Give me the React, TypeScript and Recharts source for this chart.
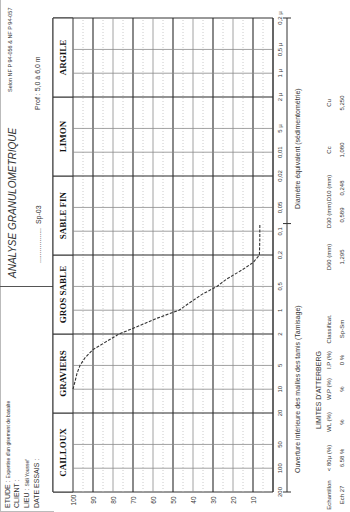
import React from "react";
import { LineChart, Line, XAxis, YAxis, ReferenceLine, ReferenceArea } from "recharts";

// ---------------------------------------------------------------------------
// Data
// ---------------------------------------------------------------------------

// sieve openings (mm) and cumulative passing (%)
const SIZES = [10, 8, 6.3, 5, 4, 3.15, 2, 1.6, 1.25, 1, 0.8, 0.63, 0.5, 0.4, 0.315, 0.25, 0.2, 0.16, 0.125, 0.1, 0.08];
const PASSING = [100, 99, 98, 96.5, 94, 90, 77, 67.5, 57.5, 47, 41.5, 35.5, 28, 23, 16, 10, 6.8, 6.7, 6.6, 6.6, 6.58];

const GRAIN_TICKS = [200, 100, 50, 20, 10, 5, 2, 1, 0.5, 0.2, 0.1, 0.05, 0.02, 0.01, 0.005, 0.002, 0.001, 0.0005, 0.0002];
const GRAIN_LABELS = ["200", "100", "50", "20", "10", "5", "2", "1", "0,5", "0,2", "0,1", "0,05", "0,02", "0,01", "5 µ", "2 µ", "1 µ", "0,5 µ", "0,2 µ"];
const PCT_TICKS = [10, 20, 30, 40, 50, 60, 70, 80, 90, 100];

const CLASS_NAMES = ["CAILLOUX", "GRAVIERS", "GROS SABLE", "SABLE FIN", "LIMON", "ARGILE"];
const CLASS_FROM = [200, 20, 2, 0.2, 0.02, 0.002];
const CLASS_TO = [20, 2, 0.2, 0.02, 0.002, 0.0002];

const RULE_MARKS = [200, 0.08, 0.0002];
const RULE_TEXTS = ["Ouverture intérieure des mailles des tamis (Tamisage)", "Diamètre équivalent (sédimentométrie)"];
const RULE_TEXT_AT = [10, 0.009];

const TABLE_HEAD = ["Echantillon", "< 80µ (%)", "WL (%)", "W.P (%)", "I.P (%)", "Classificat.", "D60 (mm)", "D30 (mm)", "D10 (mm)", "Cc", "Cu"];
const TABLE_ROW = ["Ech 27", "6.58 %", "%", "%", "0 %", "Sp-Sm", "1,295", "0,589", "0,248", "1,080", "5,250"];

// layout (unrotated coordinates)
const COL_X = [17, 54, 90, 123, 152, 183, 255, 297, 324, 362, 409];
const W = 512;
const H = 350;

const curve = SIZES.map((d, i) => ({ d, p: PASSING[i] }));

const FONT = "'Liberation Sans', Arial, sans-serif";

// ---------------------------------------------------------------------------
// Ticks
// ---------------------------------------------------------------------------

function findIdx(list: number[], v: number) {
  return list.findIndex((t) => Math.abs(t - v) / t < 1e-6);
}

function GrainTick(props: any) {
  const { x, y, payload } = props;
  const i = findIdx(GRAIN_TICKS, payload.value);
  return (
    <text x={x} y={y + 7} textAnchor="middle" dominantBaseline="central" fontSize={6} fill="#333" fontFamily={FONT}>
      {GRAIN_LABELS[i]}
    </text>
  );
}

function PctTick(props: any) {
  const { x, y, payload } = props;
  return (
    <text x={x - 8} y={y} textAnchor="middle" dominantBaseline="central" fontSize={6.5} fill="#333" fontFamily={FONT}>
      {payload.value}
    </text>
  );
}

function RuleTick(props: any) {
  const { x, y, payload } = props;
  if (findIdx(RULE_MARKS, payload.value) >= 0) {
    return <line x1={x} x2={x} y1={y - 4} y2={y + 4} stroke="#333" strokeWidth={1} />;
  }
  const i = findIdx(RULE_TEXT_AT, payload.value);
  return (
    <text x={x} y={y + 10} textAnchor="middle" dominantBaseline="central" fontSize={7} fill="#333" fontFamily={FONT}>
      {RULE_TEXTS[i]}
    </text>
  );
}

// ---------------------------------------------------------------------------
// Small positioned text
// ---------------------------------------------------------------------------

function Txt({ x, y, size = 7, children, center = true, style = {} }: any) {
  return (
    <div
      style={{
        position: "absolute",
        left: x,
        top: y,
        transform: center ? "translate(-50%, -50%)" : "translateY(-50%)",
        fontSize: size,
        lineHeight: 1,
        whiteSpace: "nowrap",
        ...style,
      }}
    >
      {children}
    </div>
  );
}

// ---------------------------------------------------------------------------
// Component
// ---------------------------------------------------------------------------

export default function App() {
  return (
    <div style={{ position: "fixed", left: 0, top: 0, width: 350, height: 512, overflow: "hidden", background: "#fff" }}>
      <div
        style={{
          position: "absolute",
          left: 0,
          top: 0,
          width: W,
          height: H,
          transformOrigin: "0 0",
          transform: "translateY(512px) rotate(-90deg)",
          fontFamily: FONT,
          color: "#333",
        }}
      >
        {/* title block */}
        <div style={{ position: "absolute", left: 0, top: 0, width: W, height: 53, borderTop: "1px solid #bbb", borderLeft: "1px solid #bbb" }} />
        <div style={{ position: "absolute", left: 225, top: 0, width: 1, height: 53, background: "#555" }} />
        <Txt x={4} y={7} center={false}>
          ETUDE : <span style={{ fontSize: 5 }}>Expertise d'un gisement de basalte</span>
        </Txt>
        <Txt x={4} y={16} center={false}>CLIENT :</Txt>
        <Txt x={4} y={26} center={false}>
          LIEU : <span style={{ fontSize: 5 }}>Sidi Youssef</span>
        </Txt>
        <Txt x={4} y={36} center={false}>DATE ESSAIS :</Txt>
        <Txt x={234} y={13} size={10} center={false} style={{ fontStyle: "italic" }}>
          ANALYSE GRANULOMETRIQUE
        </Txt>
        <Txt x={420} y={11} size={5.5} center={false}>Selon NF P 94-056 &amp; NF P 94-057</Txt>
        <Txt x={249} y={38} center={false}>
          ..................&nbsp;&nbsp;Sp-03
        </Txt>
        <Txt x={402} y={37} center={false}>Prof : 5,0 à 6,0 m</Txt>

        {/* chart */}
        <div style={{ position: "absolute", left: 0, top: 0 }}>
          <LineChart width={W} height={H} data={curve} margin={{ top: 53, right: 18, bottom: 43, left: 0 }}>
            <XAxis
              dataKey="d"
              type="number"
              scale="log"
              domain={[0.0002, 200]}
              allowDataOverflow
              reversed
              ticks={GRAIN_TICKS}
              interval={0}
              tick={<GrainTick />}
              tickLine={false}
              tickSize={0}
              tickMargin={0}
              height={14}
              axisLine={{ stroke: "#333" }}
            />
            <XAxis
              xAxisId="rule"
              dataKey="d"
              type="number"
              scale="log"
              domain={[0.0002, 200]}
              allowDataOverflow
              reversed
              ticks={[...RULE_MARKS, ...RULE_TEXT_AT]}
              interval={0}
              tick={<RuleTick />}
              tickLine={false}
              tickSize={0}
              tickMargin={0}
              height={20}
              axisLine={{ stroke: "#333" }}
            />
            <YAxis
              type="number"
              domain={[0, 110]}
              allowDataOverflow
              ticks={PCT_TICKS}
              interval={0}
              tick={<PctTick />}
              tickLine={false}
              tickSize={0}
              tickMargin={0}
              axisLine={false}
              width={20}
            />

            {/* minor percent lines */}
            {PCT_TICKS.map((p) => (
              <ReferenceLine key={"m" + p} y={p - 5} stroke="#bdbdbd" strokeWidth={0.8} strokeDasharray="1 2" />
            ))}
            {/* percent lines */}
            {PCT_TICKS.filter((p) => p < 100).map((p) => (
              <ReferenceLine
                key={"p" + p}
                y={p}
                stroke={(p / 10) % 2 === 1 ? "#2a2a2a" : "#8a8a8a"}
                strokeWidth={(p / 10) % 2 === 1 ? 1.1 : 0.8}
              />
            ))}
            {/* grain size lines */}
            {GRAIN_TICKS.slice(1, -1).map((d) => {
              const major = findIdx(CLASS_TO, d) >= 0;
              return (
                <ReferenceLine
                  key={"g" + d}
                  segment={[{ x: d, y: 0 }, { x: d, y: 100 }]}
                  stroke={major ? "#2a2a2a" : "#8a8a8a"}
                  strokeWidth={major ? 1.1 : 0.8}
                />
              );
            })}

            {/* frame */}
            <ReferenceArea x1={200} x2={0.0002} y1={0} y2={110} fill="none" stroke="#333" strokeWidth={1} />

            {/* soil classes */}
            {CLASS_NAMES.map((name, i) => (
              <ReferenceArea
                key={name}
                x1={CLASS_FROM[i]}
                x2={CLASS_TO[i]}
                y1={100}
                y2={110}
                fill="#fff"
                fillOpacity={1}
                stroke="#333"
                strokeWidth={1}
                label={{
                  value: name,
                  position: "center",
                  fill: "#111",
                  fontSize: 9,
                  fontWeight: 700,
                  fontFamily: "'Liberation Serif', 'Times New Roman', serif",
                }}
              />
            ))}

            <Line
              type="linear"
              dataKey="p"
              stroke="#333"
              strokeWidth={1.1}
              strokeDasharray="3 1.5"
              dot={false}
              isAnimationActive={false}
            />
          </LineChart>
        </div>

        {/* results table */}
        <Txt x={122} y={318} size={7}>LIMITES D'ATTERBERG</Txt>
        {TABLE_HEAD.map((t, i) => (
          <Txt key={t} x={COL_X[i]} y={329} size={6}>
            {t}
          </Txt>
        ))}
        {TABLE_ROW.map((t, i) => (
          <Txt key={i} x={COL_X[i]} y={342} size={6}>
            {t}
          </Txt>
        ))}
      </div>
    </div>
  );
}
